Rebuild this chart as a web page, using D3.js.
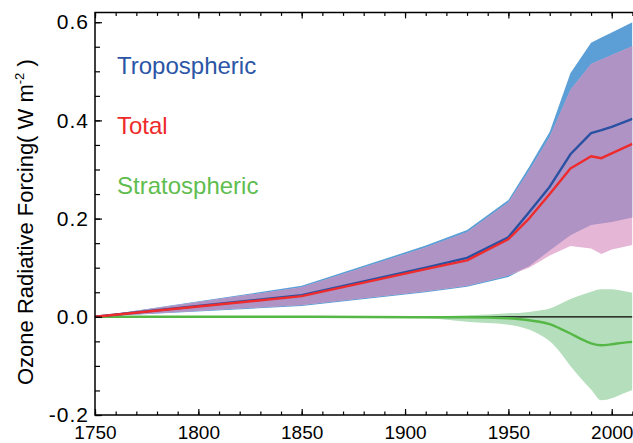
<!DOCTYPE html>
<html><head><meta charset="utf-8">
<script src="https://cdn.jsdelivr.net/npm/d3@7"></script>
<style>
body{margin:0;background:#fff}
svg{display:block}
text{font-family:"Liberation Sans",Arial,Helvetica,sans-serif}
</style>
</head><body><svg id="c" width="633" height="443"></svg>
<script>
// ---- data ----
const years      = [1750, 1850, 1910, 1930, 1950, 1960, 1970, 1980, 1990, 1995, 2000, 2010];
const tropUpper  = [0, 0.063, 0.145, 0.177, 0.238, 0.305, 0.377, 0.496, 0.558, 0.569, 0.579, 0.600];
const tropMean   = [0, 0.044, 0.100, 0.120, 0.162, 0.213, 0.265, 0.331, 0.374, 0.380, 0.387, 0.403];
const tropLower  = [0, 0.022, 0.050, 0.061, 0.081, 0.103, 0.135, 0.166, 0.187, 0.190, 0.193, 0.202];
const totalUpper = [0, 0.060, 0.141, 0.172, 0.233, 0.297, 0.366, 0.462, 0.515, 0.524, 0.533, 0.551];
const totalMean  = [0, 0.042, 0.097, 0.115, 0.158, 0.200, 0.250, 0.302, 0.327, 0.323, 0.333, 0.352];
const totalLower = [0, 0.024, 0.052, 0.063, 0.084, 0.100, 0.125, 0.144, 0.139, 0.128, 0.137, 0.146];

const stratYears = [1750, 1850, 1910, 1930, 1950, 1960, 1965, 1970, 1975, 1980, 1985, 1990, 1995, 2000, 2005, 2010];
const stratUpper = [0, 0.000, 0.001, 0.003, 0.007, 0.010, 0.013, 0.017, 0.026, 0.036, 0.044, 0.051, 0.056, 0.056, 0.053, 0.049];
const stratMean  = [0, 0.000, -0.001, -0.001, -0.003, -0.007, -0.010, -0.015, -0.024, -0.034, -0.045, -0.054, -0.058, -0.056, -0.053, -0.051];
const stratLower = [0, -0.001, -0.003, -0.010, -0.016, -0.026, -0.036, -0.050, -0.072, -0.100, -0.125, -0.148, -0.170, -0.166, -0.157, -0.149];

const xMajor = [1750, 1800, 1850, 1900, 1950, 2000];
const yMajor = [-0.2, 0.0, 0.2, 0.4, 0.6];
const legendLabels = ["Tropospheric", "Total", "Stratospheric"];

// ---- layout ----
const svg = d3.select("#c");
const x = d3.scaleLinear().domain([1750, 2010]).range([95, 632.4]);
const y = d3.scaleLinear().domain([-0.2, 0.6]).range([415, 22.2]);
const yTop = 0.62;

const C = {
  blueBand: "#5b9fd6", pinkBand: "#e5b6d6", purple: "#ae93c4", greenBand: "#b5debc",
  blueLine: "#2a50a2", redLine: "#ee2b2d", greenLine: "#55b846"
};

svg.append("clipPath").attr("id", "clip").append("rect")
  .attr("x", x(1750)).attr("y", y(yTop)).attr("width", x(2010) - x(1750)).attr("height", y(-0.2) - y(yTop));
const g = svg.append("g").attr("clip-path", "url(#clip)");

const rows = years.map((yr, i) => ({
  yr, tu: tropUpper[i], tm: tropMean[i], tl: tropLower[i],
  su: totalUpper[i], sm: totalMean[i], sl: totalLower[i]
}));
const sRows = stratYears.map((yr, i) => ({ yr, u: stratUpper[i], m: stratMean[i], l: stratLower[i] }));

const area = (lo, hi, curve) => d3.area().x(d => x(d.yr)).y0(d => y(lo(d))).y1(d => y(hi(d))).curve(curve || d3.curveLinear);
const line = (f, curve) => d3.line().x(d => x(d.yr)).y(d => y(f(d))).curve(curve || d3.curveLinear);

// bands
g.append("path").datum(rows).attr("fill", C.blueBand).attr("d", area(d => d.tl, d => d.tu));
g.append("path").datum(rows).attr("fill", C.pinkBand).attr("d", area(d => d.sl, d => d.su));
g.append("path").datum(rows).attr("fill", C.purple)
  .attr("d", area(d => Math.max(d.tl, d.sl), d => Math.min(d.tu, d.su)));
g.append("path").datum(sRows).attr("fill", C.greenBand).attr("d", area(d => d.l, d => d.u, d3.curveMonotoneX));

// zero line
g.append("line").attr("x1", x(1750)).attr("x2", x(2010)).attr("y1", y(0)).attr("y2", y(0))
  .attr("stroke", "#000").attr("stroke-width", 1.2);

// mean lines
g.append("path").datum(sRows).attr("fill", "none").attr("stroke", C.greenLine).attr("stroke-width", 2.4)
  .attr("d", line(d => d.m, d3.curveMonotoneX));
g.append("path").datum(rows).attr("fill", "none").attr("stroke", C.blueLine).attr("stroke-width", 2.4)
  .attr("stroke-linejoin", "round").attr("d", line(d => d.tm));
g.append("path").datum(rows).attr("fill", "none").attr("stroke", C.redLine).attr("stroke-width", 2.4)
  .attr("stroke-linejoin", "round").attr("d", line(d => d.sm));

// ---- axes ----
const fontSizeX = 19, fontSizeY = 21;
const bottomMajor = svg.append("g").attr("transform", `translate(0,${y(-0.2)})`)
  .call(d3.axisBottom(x).tickValues(xMajor).tickSize(-6).tickSizeOuter(0).tickPadding(11).tickFormat(d3.format("d")));
svg.append("g").attr("transform", `translate(0,${y(-0.2)})`)
  .call(d3.axisBottom(x).tickValues(d3.range(1750, 2011, 10)).tickSize(-3.5).tickSizeOuter(0).tickFormat(""));
svg.append("g").attr("transform", `translate(0,${y(yTop)})`)
  .call(d3.axisTop(x).tickValues(xMajor).tickSize(-6).tickSizeOuter(0).tickFormat(""));
svg.append("g").attr("transform", `translate(0,${y(yTop)})`)
  .call(d3.axisTop(x).tickValues(d3.range(1750, 2011, 10)).tickSize(-3.5).tickSizeOuter(0).tickFormat(""));
const leftMajor = svg.append("g").attr("transform", `translate(${x(1750)},0)`)
  .call(d3.axisLeft(y).tickValues(yMajor).tickSize(-7).tickSizeOuter(0).tickPadding(6).tickFormat(d => d.toFixed(1)));
svg.append("g").attr("transform", `translate(${x(1750)},0)`)
  .call(d3.axisLeft(y).tickValues(d3.range(-0.2, 0.601, 0.05)).tickSize(-5).tickSizeOuter(0).tickFormat(""));

svg.selectAll(".domain").remove();
svg.selectAll(".tick line").attr("stroke", "#000").attr("stroke-width", 1.2);
bottomMajor.selectAll("text").attr("font-size", fontSizeX).attr("fill", "#000").attr("font-family", null);
leftMajor.selectAll("text").attr("font-size", fontSizeY).attr("fill", "#000").attr("font-family", null).attr("letter-spacing", 1);

// frame
svg.append("path").attr("fill", "none").attr("stroke", "#000").attr("stroke-width", 1.5)
  .attr("d", `M${x(2010) + 2},${y(yTop)}H${x(1750)}V${y(-0.2)}H${x(2010) + 2}`);

// y title
const title = svg.append("text").attr("transform", `translate(33,385) rotate(-90)`)
  .attr("font-size", 22).attr("fill", "#000");
title.append("tspan").text("Ozone Radiative Forcing( W m");
title.append("tspan").attr("font-size", 13).attr("dy", -9).text("-2");
title.append("tspan").attr("dy", 9).text(" )");

// legend
const legendColors = ["#2b55a6", "#ee2a2a", "#5fbd50"];
svg.selectAll(".leg").data(legendLabels).join("text").attr("class", "leg")
  .attr("x", 117).attr("y", (d, i) => 74 + i * 60)
  .attr("font-size", 24).attr("fill", (d, i) => legendColors[i]).text(d => d);
</script>
</body></html>
